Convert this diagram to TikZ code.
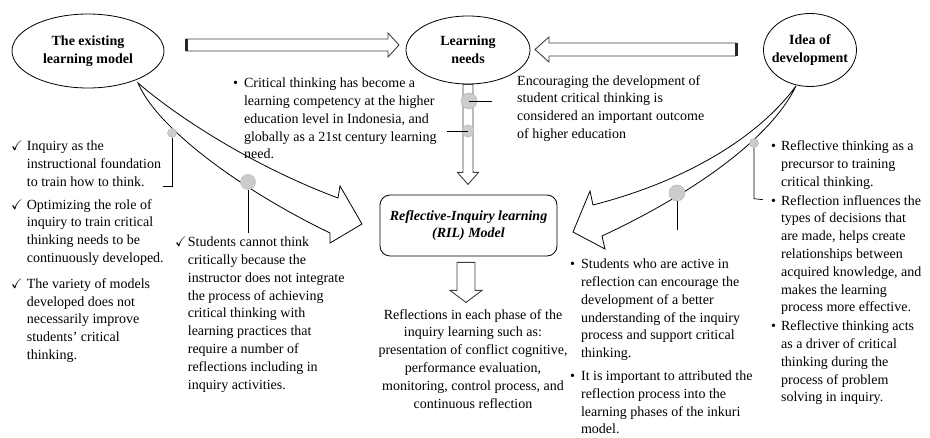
\documentclass[tikz,border=0pt]{standalone}
\usepackage{amssymb}
\usepackage{fontspec}
\setmainfont{Liberation Serif}
\usetikzlibrary{shapes.geometric}

\newcommand{\chk}{\ensuremath{\checkmark}}

\begin{document}
\begin{tikzpicture}[
  x=1pt, y=-1pt,
  txt/.style={font=\fontsize{14}{17.8}\selectfont, inner sep=0pt},
  bubble/.style={draw, ellipse, inner sep=0pt, line width=0.8pt},
  bubbletext/.style={txt, font=\fontsize{14}{17.8}\selectfont\bfseries, align=center},
  modelbox/.style={draw, rounded corners=10pt, line width=0.8pt, minimum width=177pt, minimum height=61pt,
    align=center, font=\fontsize{14}{17.8}\selectfont\bfseries\itshape},
  note/.style={txt, anchor=north west, align=left},
  hollow/.style={draw=black!75, fill=white, line width=0.9pt},
  tailbar/.style={draw=black!85, line width=3pt},
  curved/.style={draw, fill=white, line width=0.8pt},
  dot/.style={circle, draw=gray!60, fill=gray!40, inner sep=0pt},
  leader/.style={draw, line width=0.7pt}
]
\useasboundingbox (0,0) rectangle (930,438);

% three ovals along the top
\node[bubble, minimum width=152pt, minimum height=74pt] (existing) at (88,51) {};
\node[bubbletext] (existinglbl) at (existing) {The existing\\learning model};
\node[bubble, minimum width=124pt, minimum height=68pt] (needs) at (468,50) {};
\node[bubbletext] (needslbl) at (needs) {Learning\\needs};
\node[bubble, minimum width=93pt, minimum height=73pt] (idea) at (810,50) {};
\node[bubbletext] (idealbl) at (idea) {Idea of\\development};

% the model box
\node[modelbox] (model) at (468.5,225.5) {Reflective-Inquiry learning\\(RIL) Model};

% straight block arrows
\draw[hollow] (186,39) -- (388,39) -- (388,33) -- (399,45) -- (388,57) -- (388,51) -- (186,51) -- cycle;
\draw[tailbar] (186,39) -- (186,51);
\draw[hollow] (736,43) -- (549,43) -- (549,37) -- (535,49.5) -- (549,62) -- (549,56) -- (736,56) -- cycle;
\draw[tailbar] (736,43) -- (736,56);
\draw[hollow] ([xshift=-5pt]needs.south) -- ++(0,88) -- ++(-5.5,0) -- ++(10.5,12)
  -- ++(10.5,-12) -- ++(-5.5,0) -- ++(0,-88) -- cycle;
\draw[hollow] ([xshift=-11.5pt,yshift=-6pt]model.south) -- ++(0,28) -- ++(-7,0) -- ++(16,12)
  -- ++(16,-12) -- ++(-7,0) -- ++(0,-28) -- cycle;

% curved arrows into the model
\draw[curved] (138,83) .. controls (175,115) and (250,165) .. (338,198)
  -- (340,186) -- (362,224) -- (330,243) -- (330,233)
  .. controls (245,192) and (158,130) .. (138,83) -- cycle;
\draw[curved] (796,86) .. controls (760,135) and (690,180) .. (593,205)
  -- (590,191) -- (573,232) -- (605,249) -- (602,236)
  .. controls (690,195) and (770,140) .. (796,86) -- cycle;

% grey markers with their leader lines
\node[dot, minimum size=9pt] (ldot1) at (172,133) {};
\draw[leader] (ldot1.south) -- ++(0,49) -- ++(-9,0);
\node[dot, minimum size=15pt] (ldot2) at (248,182) {};
\draw[leader] (ldot2.south) -- ++(0,43);
\node[dot, minimum size=16pt] (ndot1) at (469,101) {};
\node[dot, minimum size=12pt] (ndot2) at (468,131) {};
\draw[leader] (ndot1.center) -- ++(23,0);
\draw[leader] (ndot2.center) -- ++(-21,0);
\node[dot, minimum size=9pt] (rdot1) at (754,143) {};
\draw[leader] (rdot1.south) -- ++(0,51) -- ++(9,1);
\node[dot, minimum size=16pt] (rdot2) at (677,193) {};
\draw[leader] (rdot2.south) -- ++(0,29);

% texts
\node[note] (needsleft) at (233,75) {%
  \begin{tabular}{@{}l@{\hspace{6pt}}l@{}}
    \textbullet & Critical thinking has become a\\
                & learning competency at the higher\\
                & education level in Indonesia, and\\
                & globally as a 21st century learning\\
                & need.
  \end{tabular}};
\node[note] (needsright) at (517,75) {Encouraging the development of\\
  student critical thinking is\\considered an important outcome\\of higher education};

\node[note] (existnote) at (11,138) {%
  \begin{tabular}{@{}l@{\hspace{4pt}}l@{}}
    \chk & Inquiry as the\\
         & instructional foundation\\
         & to train how to think.\\[5pt]
    \chk & Optimizing the role of\\
         & inquiry to train critical\\
         & thinking needs to be\\
         & continuously developed.\\[8pt]
    \chk & The variety of models\\
         & developed does not\\
         & necessarily improve\\
         & students' critical\\
         & thinking.
  \end{tabular}};

\node[note] (gapnote) at (175,234) {%
  \begin{tabular}{@{}l@{\hspace{1pt}}l@{}}
    \chk & Students cannot think\\
         & critically because the\\
         & instructor does not integrate\\
         & the process of achieving\\
         & critical thinking with\\
         & learning practices that\\
         & require a number of\\
         & reflections including in\\
         & inquiry activities.
  \end{tabular}};

\node[txt, anchor=north, align=center] (phases) at (473,309) {Reflections in each phase of the\\
  inquiry learning such as:\\presentation of conflict cognitive,\\performance evaluation,\\
  monitoring, control process, and\\continuous reflection};

\node[note] (activenote) at (570,256) {%
  \begin{tabular}{@{}l@{\hspace{6pt}}l@{}}
    \textbullet & Students who are active in\\
                & reflection can encourage the\\
                & development of a better\\
                & understanding of the inquiry\\
                & process and support critical\\
                & thinking.\\[5pt]
    \textbullet & It is important to attributed the\\
                & reflection process into the\\
                & learning phases of the inkuri\\
                & model.
  \end{tabular}};

\node[note] (ideanote) at (771,138) {%
  \begin{tabular}{@{}l@{\hspace{5pt}}l@{}}
    \textbullet & Reflective thinking as a\\
                & precursor to training\\
                & critical thinking.\\[1pt]
    \textbullet & Reflection influences the\\
                & types of decisions that\\
                & are made, helps create\\
                & relationships between\\
                & acquired knowledge, and\\
                & makes the learning\\
                & process more effective.\\[1pt]
    \textbullet & Reflective thinking acts\\
                & as a driver of critical\\
                & thinking during the\\
                & process of problem\\
                & solving in inquiry.
  \end{tabular}};

\end{tikzpicture}
\end{document}
